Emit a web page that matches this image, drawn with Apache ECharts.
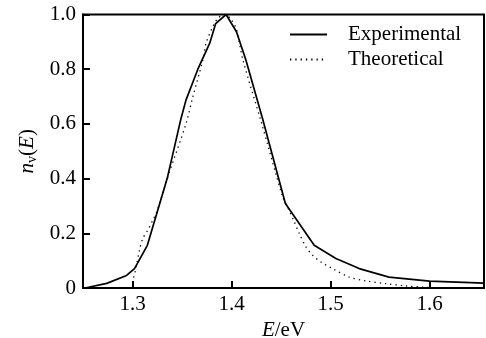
<!DOCTYPE html>
<html>
<head>
<meta charset="utf-8">
<script src="https://cdn.jsdelivr.net/npm/echarts@6/dist/echarts.min.js"></script>
<style>
html,body{margin:0;padding:0;background:#fff;}
#c{width:486px;height:338px;}
</style>
</head>
<body>
<div id="c"></div>
<script>
// ---- data ----
const expE = [1.252, 1.274, 1.294, 1.302, 1.315, 1.335, 1.349, 1.354, 1.366, 1.378, 1.384, 1.3945, 1.405, 1.4146, 1.4313, 1.4544, 1.4835, 1.5054, 1.529, 1.559, 1.600, 1.655];
const expN = [0.000, 0.017, 0.046, 0.071, 0.156, 0.400, 0.620, 0.687, 0.800, 0.895, 0.967, 1.000, 0.937, 0.833, 0.620, 0.309, 0.156, 0.108, 0.071, 0.040, 0.025, 0.018];

const theoE = [1.2995, 1.301, 1.3037, 1.307, 1.3104, 1.3154, 1.3205, 1.3245, 1.3356, 1.354, 1.361, 1.371, 1.3743, 1.381, 1.386, 1.3925, 1.399, 1.405, 1.4116, 1.430, 1.4517, 1.4567, 1.4634, 1.4685, 1.4752, 1.4819, 1.4903, 1.502, 1.5188, 1.5356, 1.5558, 1.575, 1.595, 1.612];
const theoN = [0.000, 0.035, 0.077, 0.138, 0.181, 0.211, 0.248, 0.278, 0.406, 0.600, 0.700, 0.833, 0.895, 0.955, 0.985, 1.000, 0.985, 0.945, 0.833, 0.607, 0.333, 0.296, 0.242, 0.199, 0.150, 0.120, 0.095, 0.071, 0.040, 0.026, 0.016, 0.008, 0.003, 0.000];

const xTickValues = [1.3, 1.4, 1.5, 1.6];
const xTickLabels = ['1.3', '1.4', '1.5', '1.6'];
const yTickLabels = ['0', '0.2', '0.4', '0.6', '0.8', '1.0'];
const seriesNames = ['Experimental', 'Theoretical'];

// ---- chart ----
const FONT = "'Liberation Serif', 'Times New Roman', serif";
const FS = 21;
const chart = echarts.init(document.getElementById('c'), null, {renderer: 'canvas'});
const axisCommon = {
  axisLine: {show: true, lineStyle: {color: '#000', width: 2}},
  splitLine: {show: false}
};
chart.setOption({
  animation: false,
  backgroundColor: '#fff',
  grid: {left: 83, right: 2, top: 14.5, bottom: 50, show: true, borderColor: '#000', borderWidth: 2, backgroundColor: 'transparent', containLabel: false, outerBoundsMode: 'none'},
  legend: {
    orient: 'vertical',
    left: 289,
    top: 24,
    padding: 0,
    itemWidth: 37,
    itemHeight: 14,
    itemGap: 4,
    data: seriesNames,
    itemStyle: {opacity: 0},
    textStyle: {fontFamily: FONT, fontSize: FS, color: '#000', padding: [0, 0, 0, 16], lineHeight: 21}
  },
  xAxis: Object.assign({
    type: 'value',
    min: 1.25,
    max: 1.655,
    name: '{i|E}/eV',
    nameLocation: 'middle',
    nameGap: 25,
    nameTextStyle: {
      fontFamily: FONT, fontSize: FS, color: '#000',
      rich: {i: {fontStyle: 'italic', fontFamily: FONT, fontSize: FS, color: '#000'}}
    },
    axisTick: {show: true, inside: true, length: 7, customValues: xTickValues, lineStyle: {color: '#000', width: 2}},
    axisLabel: {
      customValues: xTickValues,
      margin: 6,
      color: '#000', fontFamily: FONT, fontSize: FS,
      formatter: function (v) { const i = xTickValues.findIndex(t => Math.abs(t - v) < 1e-6); return i >= 0 ? xTickLabels[i] : ''; }
    }
  }, axisCommon),
  yAxis: Object.assign({
    type: 'value',
    min: 0,
    max: 1,
    interval: 0.2,
    name: '{i|n}{s|v}({i|E})',
    nameLocation: 'middle',
    nameGap: 42,
    nameRotate: 90,
    nameTextStyle: {
      fontFamily: FONT, fontSize: FS, color: '#000',
      rich: {
        i: {fontStyle: 'italic', fontFamily: FONT, fontSize: FS, color: '#000'},
        s: {fontFamily: FONT, fontSize: 14, color: '#000', padding: [9, 0, 0, 0]}
      }
    },
    axisTick: {show: true, inside: true, length: 7, lineStyle: {color: '#000', width: 2}},
    axisLabel: {
      margin: 7,
      color: '#000', fontFamily: FONT, fontSize: FS,
      formatter: function (v) { return yTickLabels[Math.round(v / 0.2)]; }
    }
  }, axisCommon),
  series: [
    {
      name: seriesNames[0],
      type: 'line',
      symbol: 'none',
      data: expE.map((e, i) => [e, expN[i]]),
      lineStyle: {color: '#000', width: 1.7, type: 'solid'},
      itemStyle: {color: '#000'}
    },
    {
      name: seriesNames[1],
      type: 'line',
      symbol: 'none',
      smooth: 0.3,
      data: theoE.map((e, i) => [e, theoN[i]]),
      lineStyle: {color: '#000', width: 1.3, type: [1.3, 4]},
      itemStyle: {color: '#000'}
    }
  ]
});
</script>
</body>
</html>
